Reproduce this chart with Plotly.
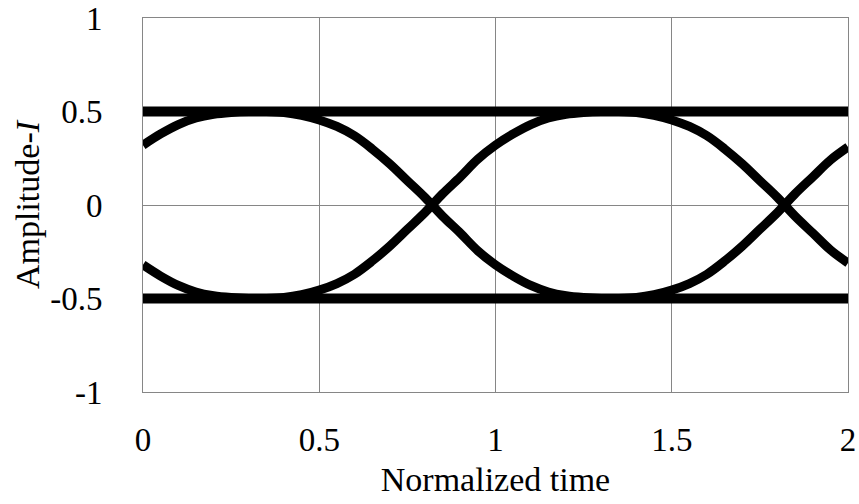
import plotly.graph_objects as go

# Normalized time samples
time = [0.00, 0.05, 0.10, 0.15, 0.20, 0.25, 0.30, 0.35, 0.40, 0.45,
        0.50, 0.55, 0.60, 0.65, 0.70, 0.75, 0.80, 0.85, 0.90, 0.95,
        1.00, 1.05, 1.10, 1.15, 1.20, 1.25, 1.30, 1.35, 1.40, 1.45,
        1.50, 1.55, 1.60, 1.65, 1.70, 1.75, 1.80, 1.85, 1.90, 1.95, 2.00]

# Transition trace starting high
trace_a = [0.32, 0.38, 0.43, 0.465, 0.485, 0.495, 0.50, 0.50, 0.495, 0.48,
           0.455, 0.42, 0.37, 0.30, 0.22, 0.13, 0.04, -0.06, -0.15, -0.245,
           -0.32, -0.38, -0.43, -0.465, -0.485, -0.495, -0.50, -0.50, -0.495, -0.48,
           -0.455, -0.42, -0.37, -0.30, -0.22, -0.13, -0.04, 0.06, 0.15, 0.24, 0.31]

# Transition trace starting low
trace_b = [-0.32, -0.38, -0.43, -0.465, -0.485, -0.495, -0.50, -0.50, -0.495, -0.48,
           -0.455, -0.42, -0.37, -0.30, -0.22, -0.13, -0.04, 0.06, 0.15, 0.245,
           0.32, 0.38, 0.43, 0.465, 0.485, 0.495, 0.50, 0.50, 0.495, 0.48,
           0.455, 0.42, 0.37, 0.30, 0.22, 0.13, 0.04, -0.06, -0.15, -0.24, -0.31]

# Steady symbol levels
rail_time = [0.0, 2.0]
rail_high = [0.5, 0.5]
rail_low = [-0.5, -0.5]

x_ticks = [0, 0.5, 1, 1.5, 2]
x_tick_text = ["0", "0.5", "1", "1.5", "2"]
y_ticks = [-1, -0.5, 0, 0.5, 1]
y_tick_text = ["-1", "-0.5", "0", "0.5", "1"]

fig = go.Figure()
for yy in (rail_high, rail_low):
    fig.add_trace(go.Scatter(x=rail_time, y=yy, mode="lines",
                             line=dict(color="black", width=10),
                             showlegend=False, hoverinfo="skip"))
for yy in (trace_a, trace_b):
    fig.add_trace(go.Scatter(x=time, y=yy, mode="lines",
                             line=dict(color="black", width=9, shape="spline", smoothing=1.0),
                             showlegend=False, hoverinfo="skip"))

serif = "Liberation Serif, Times New Roman, serif"
tick_font = dict(family=serif, size=33, color="black")
title_font = dict(family=serif, size=34, color="black")

fig.update_layout(
    width=859, height=504,
    margin=dict(l=143, r=11, t=18, b=112),
    paper_bgcolor="white", plot_bgcolor="white",
    font=tick_font,
    xaxis=dict(range=[0, 2], tickvals=x_ticks, ticktext=x_tick_text,
               tickfont=tick_font, automargin=False,
               showgrid=True, gridcolor="#868686", gridwidth=1,
               showline=True, linecolor="#868686", linewidth=1, mirror=True,
               zeroline=False, ticks="", ticklabelstandoff=18,
               title=dict(text="Normalized time", font=title_font, standoff=10)),
    yaxis=dict(range=[-1, 1], tickvals=y_ticks, ticktext=y_tick_text,
               tickfont=tick_font, automargin=False,
               showgrid=True, gridcolor="#868686", gridwidth=1,
               showline=True, linecolor="#868686", linewidth=1, mirror=True,
               zeroline=False, ticks="", ticklabelstandoff=33,
               title=dict(text="Amplitude-<i>I</i>", font=title_font, standoff=0)),
)

fig.write_html("out.html")
